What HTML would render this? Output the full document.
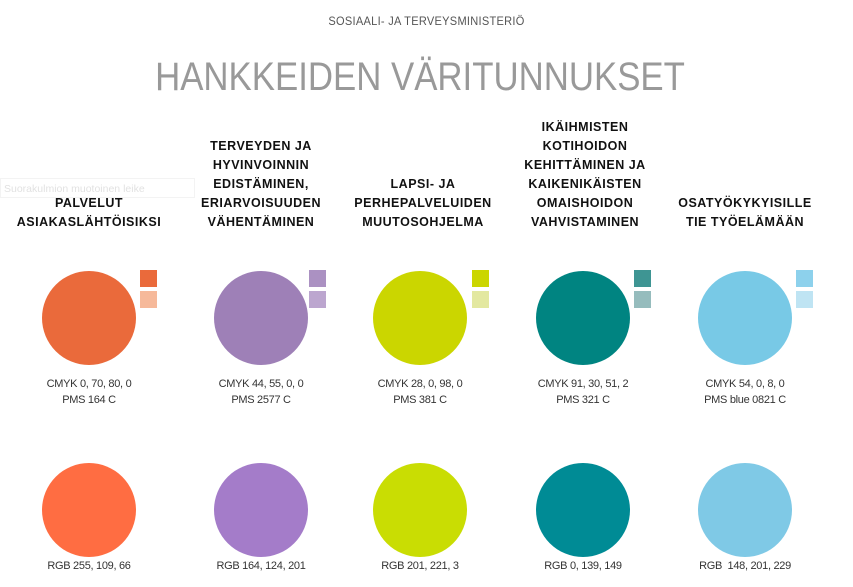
<!DOCTYPE html>
<html><head><meta charset="utf-8"><style>
body{margin:0;width:853px;height:587px;background:#fff;position:relative;overflow:hidden;font-family:"Liberation Sans",sans-serif}
.a{position:absolute}
.top{left:0;width:853px;top:14px;text-align:center;font-size:12px;letter-spacing:0.3px;color:#555;transform:scaleX(0.92)}
.title{left:0;width:840px;top:55px;text-align:center;font-size:40px;color:#999;letter-spacing:0;transform:scaleX(0.87);transform-origin:420px 0}
.h{bottom:355px;width:170px;text-align:center;font-weight:bold;font-size:12.5px;line-height:19px;letter-spacing:0.5px;color:#111}
.c{border-radius:50%;width:94px;height:94px}
.s{width:17px;height:17px}
.t{width:170px;text-align:center;font-size:11px;line-height:16px;color:#333;letter-spacing:-0.3px}
</style></head><body>
<div class="a top">SOSIAALI- JA TERVEYSMINISTERIÖ</div>
<div class="a title">HANKKEIDEN VÄRITUNNUKSET</div>
<div class="a" style="left:0;top:178px;width:195px;height:20px;border:1px solid #f3f3f3;font-size:10.5px;color:#e2e2e2;line-height:20px;padding-left:3px;box-sizing:border-box">Suorakulmion muotoinen leike</div>

<div class="a h" style="left:4px">PALVELUT<br>ASIAKASLÄHTÖISIKSI</div>
<div class="a h" style="left:176px">TERVEYDEN JA<br>HYVINVOINNIN<br>EDISTÄMINEN,<br>ERIARVOISUUDEN<br>VÄHENTÄMINEN</div>
<div class="a h" style="left:338px">LAPSI- JA<br>PERHEPALVELUIDEN<br>MUUTOSOHJELMA</div>
<div class="a h" style="left:500px">IKÄIHMISTEN<br>KOTIHOIDON<br>KEHITTÄMINEN JA<br>KAIKENIKÄISTEN<br>OMAISHOIDON<br>VAHVISTAMINEN</div>
<div class="a h" style="left:660px">OSATYÖKYKYISILLE<br>TIE TYÖELÄMÄÄN</div>

<div class="a c" style="left:42px;top:271px;background:#ea6a3b"></div>
<div class="a c" style="left:214px;top:271px;background:#9e80b7"></div>
<div class="a c" style="left:373px;top:271px;background:#cbd600"></div>
<div class="a c" style="left:536px;top:271px;background:#008481"></div>
<div class="a c" style="left:698px;top:271px;background:#78c9e6"></div>

<div class="a s" style="left:140px;top:270px;background:#ea6a3b"></div><div class="a s" style="left:140px;top:291px;background:#f6b99a"></div>
<div class="a s" style="left:309px;top:270px;background:#ab91c2"></div><div class="a s" style="left:309px;top:291px;background:#bca6cf"></div>
<div class="a s" style="left:472px;top:270px;background:#cbd600"></div><div class="a s" style="left:472px;top:291px;background:#e3e8a0"></div>
<div class="a s" style="left:634px;top:270px;background:#3e9593"></div><div class="a s" style="left:634px;top:291px;background:#96bcbd"></div>
<div class="a s" style="left:796px;top:270px;background:#8dd1ec"></div><div class="a s" style="left:796px;top:291px;background:#bfe4f3"></div>

<div class="a t" style="left:4px;top:376px">CMYK 0, 70, 80, 0<br>PMS 164 C</div>
<div class="a t" style="left:176px;top:376px">CMYK 44, 55, 0, 0<br>PMS 2577 C</div>
<div class="a t" style="left:335px;top:376px">CMYK 28, 0, 98, 0<br>PMS 381 C</div>
<div class="a t" style="left:498px;top:376px">CMYK 91, 30, 51, 2<br>PMS 321 C</div>
<div class="a t" style="left:660px;top:376px">CMYK 54, 0, 8, 0<br>PMS blue 0821 C</div>

<div class="a c" style="left:42px;top:463px;background:#ff6d42"></div>
<div class="a c" style="left:214px;top:463px;background:#a47cc9"></div>
<div class="a c" style="left:373px;top:463px;background:#c9dd03"></div>
<div class="a c" style="left:536px;top:463px;background:#008b95"></div>
<div class="a c" style="left:698px;top:463px;background:#7fc9e6"></div>

<div class="a t" style="left:4px;top:558px">RGB 255, 109, 66</div>
<div class="a t" style="left:176px;top:558px">RGB 164, 124, 201</div>
<div class="a t" style="left:335px;top:558px">RGB 201, 221, 3</div>
<div class="a t" style="left:498px;top:558px">RGB 0, 139, 149</div>
<div class="a t" style="left:660px;top:558px">RGB&nbsp; 148, 201, 229</div>
</body></html>
